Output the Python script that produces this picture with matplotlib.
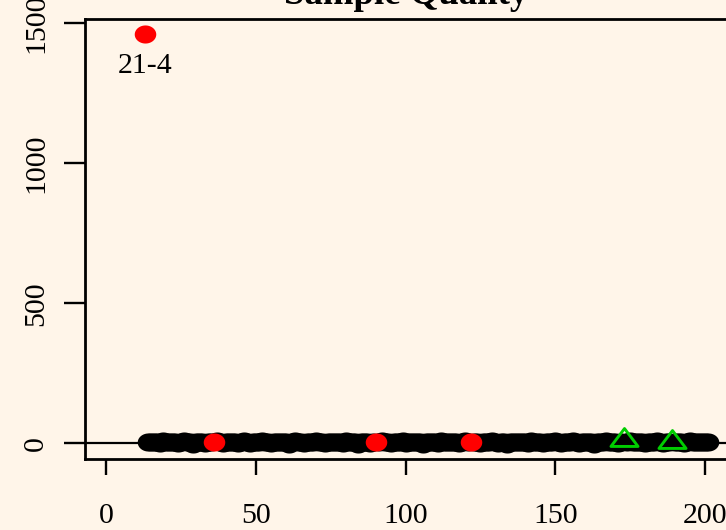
import numpy as np
import matplotlib
matplotlib.use("Agg")
import matplotlib.pyplot as plt
from matplotlib.path import Path

# ---- data ----
title = "Sample Quality"
x_ticks = [0, 50, 100, 150, 200]
y_ticks = [0, 500, 1000, 1500]

red_x = [13, 36, 90, 122]
red_y = [1460, 4, 5, 4]
red_labels = ["21-4", "", "", ""]

green_x = [173, 189]
green_y = [22, 14]

black_x = [i for i in range(14, 202) if i not in (36, 90, 122, 173, 189)]
black_y = [
    4, 6, 3, 5, 2, 7, 4, 3, 6, 5,
    2, 4, 8, 3, 5, -2, 4, 6, 3, 2,
    5, 4, 7, 3, 2, 4, 6, 5, 3, 1,
    4, 7, 5, 2, 3, 6, 4, 8, 3, 5,
    2, 4, 6, 3, 5, 4, -2, 3, 7, 4,
    5, 2, 3, 6, 4, 8, 5, 3, 2, 4,
    6, 3, 5, 4, 2, 7, 3, 4, 5, -1,
    3, 6, 4, 2, 5, 3, 7, 4, 6, 2,
    4, 5, 3, 8, 2, 4, 6, 3, 5, 4,
    -2, 3, 6, 4, 5, 2, 7, 3, 4, 6,
    3, 5, 2, 4, 8, 3, 6, 4, 2, 5,
    4, 3, 7, 5, 2, 4, 6, -1, 3, 5,
    6, 4, 3, 5, 2, 7, 4, 3, 6, 2,
    5, 3, 4, 8, 6, 2, 4, 5, 3, 7,
    4, 2, 5, 3, 6, 4, -2, 5, 3, 4,
    7, 3, 5, 4, 2, 6, 3, 8, 4, 5,
    3, 6, 2, 4, 5, 3, 7, 4, 2, 6,
    4, 5, 3, 6, 2, 4, 7, 3, 5, 4,
    6, 3, 5,
]

# ---- style ----
bg = "#FFF5E9"
serif = ["Liberation Serif", "DejaVu Serif"]
plt.rcParams["font.family"] = serif

W, H = 726, 530
fig = plt.figure(figsize=(W / 100, H / 100), dpi=100, facecolor=bg)
left_px, right_px, top_px, bottom_px = 85, 729, 19, 459
ax = fig.add_axes([left_px / W, 1 - bottom_px / H,
                   (right_px - left_px) / W, (bottom_px - top_px) / H])
ax.set_facecolor(bg)
ax.set_xlim(-7, 208)
ax.set_ylim(-56, 1515)

# elliptical dot and squashed triangle markers
t = np.linspace(0, 2 * np.pi, 64)
ellipse = Path(np.column_stack([np.cos(t), 0.84 * np.sin(t)]), closed=True)
tri = Path([(-0.5, -0.33), (0.5, -0.33), (0.0, 0.33), (-0.5, -0.33)], closed=True)

ax.axhline(0, color="black", lw=1.6, zorder=1)
ax.plot(black_x, black_y, linestyle="none", marker=ellipse, markersize=15.5,
        color="black", markeredgewidth=0, zorder=2)
ax.plot(red_x, red_y, linestyle="none", marker=ellipse, markersize=15.5,
        color="#FF0000", markeredgewidth=0, zorder=3)
ax.plot(green_x, green_y, linestyle="none", marker=tri, markersize=19.5,
        markerfacecolor="none", markeredgecolor="#00CD00", markeredgewidth=2.1,
        zorder=4)
for xv, yv, lab in zip(red_x, red_y, red_labels):
    if lab:
        ax.annotate(lab, (xv, yv), xytext=(0, -39), textcoords="offset pixels",
                    ha="center", va="baseline", fontsize=21.5, color="black")

for s in ax.spines.values():
    s.set_linewidth(2.0)
    s.set_color("black")

ax.set_xticks(x_ticks)
ax.set_xticklabels([str(v) for v in x_ticks])
ax.set_yticks(y_ticks)
ax.set_yticklabels([str(v) for v in y_ticks], rotation=90, va="center")
ax.tick_params(axis="x", length=11.5, width=1.7, pad=20, labelsize=21.5,
               direction="out", colors="black")
ax.tick_params(axis="y", length=15, width=1.7, pad=11, labelsize=21.5,
               direction="out", colors="black")

fig.text(406.5 / W, 1 - 4 / H, title, ha="center", va="baseline",
         fontsize=26.5, fontweight="bold")

fig.savefig("out.png", dpi=100, facecolor=bg)
